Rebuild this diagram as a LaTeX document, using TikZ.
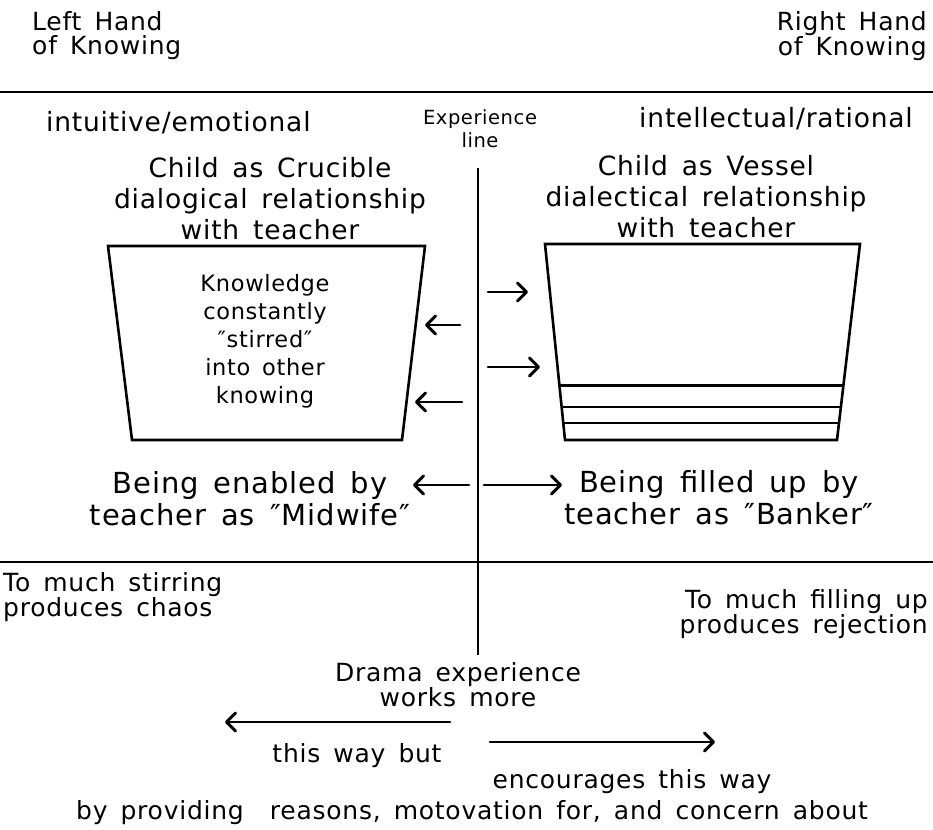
\documentclass[tikz,border=0pt]{standalone}
\usepackage{fontspec}
\setmainfont{DejaVu Sans}[LetterSpace=3,WordSpace=1.5]
\usetikzlibrary{arrows.meta,calc}

\begin{document}
\begin{tikzpicture}[x=1pt, y=-1pt,
  every node/.style={inner sep=0pt, align=center},
  hand/.style={font=\fontsize{25}{24}\selectfont},
  head/.style={font=\fontsize{26.5}{31}\selectfont},
  inbox/.style={font=\fontsize{22.5}{28}\selectfont},
  being/.style={font=\fontsize{29}{32}\selectfont},
  small/.style={font=\fontsize{19.5}{23}\selectfont},
  rule/.style={line width=2.6pt},
  pointer/.style={line width=2.8pt, line cap=round,
    -{Straight Barb[length=9pt,width=18pt,line width=3pt,round]}}]
\useasboundingbox (0,0) rectangle (933,829);

% headings
\node (lefthand) [hand, align=left, anchor=west] at (32,36) {Left Hand\\of Knowing};
\node (righthand) [hand, align=right, anchor=east] at (927,36) {Right Hand\\of Knowing};
\coordinate (topL) at (0,92);
\coordinate (topR) at (933,92);
\draw [rule] (topL) -- (topR);

\node (intuitive) [head, anchor=west] at (46,123) {intuitive/emotional};
\node (intellectual) [head, anchor=east] at (913,119) {intellectual/rational};
\node (experience) [small] at (480,129) {Experience\\line};
\coordinate (lineTop) at (478,168);
\coordinate (lineBot) at (478,655);
\draw [rule] (lineTop) -- (lineBot);

\node (crucible) [head] at (270,199) {Child as Crucible\\dialogical relationship\\with teacher};
\node (vessel) [head] at (706,197) {Child as Vessel\\dialectical relationship\\with teacher};

% crucible
\draw [rule] (108,246) coordinate (c1) -- (425,246) coordinate (c2)
  -- (402,440) coordinate (c3) -- (132,440) coordinate (c4) -- cycle;
\node (stirred) [inbox] at (265,341) {Knowledge\\constantly\\″stirred″\\into other\\knowing};

% vessel, filled from the bottom
\draw [rule] (545,244) coordinate (v1) -- (860,244) coordinate (v2)
  -- (837,440) coordinate (v3) -- (565,440) coordinate (v4) -- cycle;
\foreach \t in {0.721,0.832,0.914}
  \draw [rule] ($(v1)!\t!(v4)$) -- ($(v2)!\t!(v3)$);

% arrows off the experience line
\coordinate (out1) at (460,325);
\coordinate (out1e) at (425,325);
\coordinate (out2) at (462,402);
\coordinate (out2e) at (415,402);
\coordinate (in1) at (488,292);
\coordinate (in1e) at (528,292);
\coordinate (in2) at (488,367);
\coordinate (in2e) at (540,367);
\draw [pointer] (out1) -- (out1e);
\draw [pointer] (out2) -- (out2e);
\draw [pointer] (in1) -- (in1e);
\draw [pointer] (in2) -- (in2e);

\node (midwife) [being] at (250,499) {Being enabled by\\teacher as ″Midwife″};
\node (banker) [being] at (719,498) {Being filled up by\\teacher as ″Banker″};
\coordinate (mwL) at (469,485);
\coordinate (mwR) at (413,485);
\coordinate (bkL) at (484,485);
\coordinate (bkR) at (562,485);
\draw [pointer] (mwL) -- (mwR);
\draw [pointer] (bkL) -- (bkR);

\coordinate (midL) at (0,562);
\coordinate (midR) at (933,562);
\draw [rule] (midL) -- (midR);

\node (chaos) [hand, align=left, anchor=west, font=\fontsize{25}{21}\selectfont] at (3,597) {To much stirring\\produces chaos};
\node (rejection) [hand, align=right, anchor=east, font=\fontsize{25}{23}\selectfont] at (928,614) {To much filling up\\produces rejection};

% drama
\node (drama) [hand] at (458,685) {Drama experience\\works more};
\coordinate (wayL) at (450,722);
\coordinate (wayR) at (490,742);
\draw [pointer] (wayL) -- (225,722);
\draw [pointer] (wayR) -- (715,742);
\node (thisway) [hand] at (357,756) {this way but};
\node (encourages) [hand] at (632,782) {encourages this way};
\node (providing) [hand] at (472,813) {by providing \ reasons, motovation for, and concern about};
\end{tikzpicture}
\end{document}
